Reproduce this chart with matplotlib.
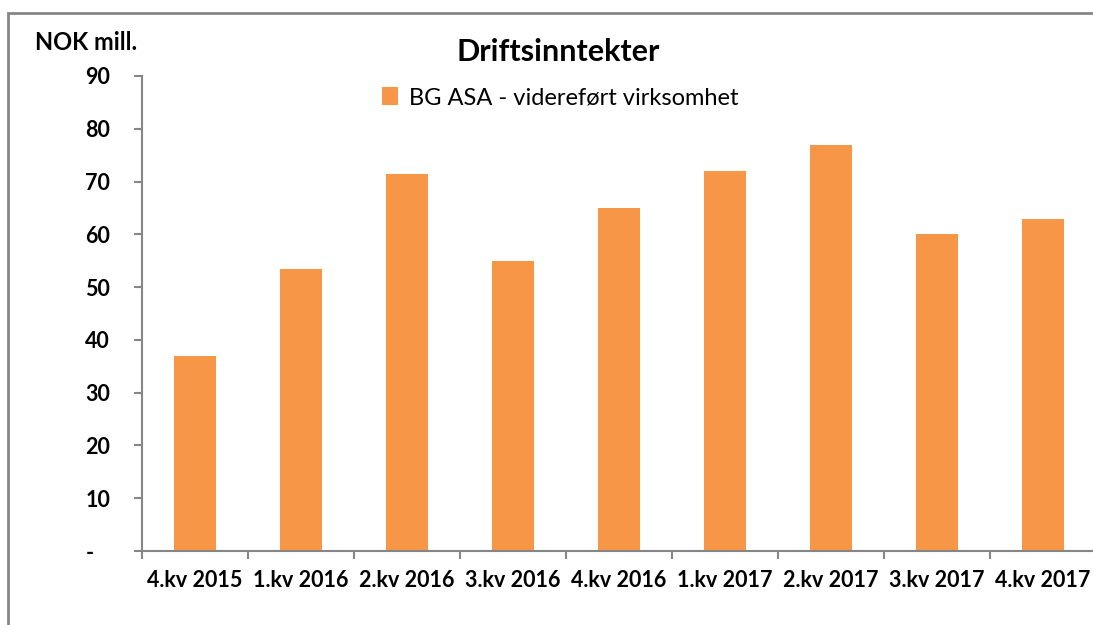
#!/usr/bin/env python3
"""Driftsinntekter - BG ASA, stolpediagram per kvartal."""
import matplotlib.pyplot as plt
from matplotlib.patches import Rectangle
import numpy as np

kvartaler = ["4.kv 2015", "1.kv 2016", "2.kv 2016", "3.kv 2016", "4.kv 2016",
             "1.kv 2017", "2.kv 2017", "3.kv 2017", "4.kv 2017"]
inntekter = [37, 53.4, 71.4, 55, 65, 72, 77, 60, 63]
y_ticks = [0, 10, 20, 30, 40, 50, 60, 70, 80, 90]
y_labels = ["-   ", "10", "20", "30", "40", "50", "60", "70", "80", "90"]

ORANGE = "#F79646"
GREY = "#868686"
FONT = ["Lato", "DejaVu Sans"]

plt.rcParams["font.family"] = FONT

fig = plt.figure(figsize=(10.93, 6.25), dpi=100)
ax = fig.add_axes([142 / 1093, 1 - 551 / 625, (1096 - 142) / 1093, (551 - 76) / 625])

x = np.arange(len(kvartaler))
ax.bar(x, inntekter, width=0.4, color=ORANGE, label="BG ASA - videreført virksomhet")

ax.set_xlim(-0.5, len(kvartaler) - 0.5)
ax.set_ylim(0, 90)
ax.set_yticks(y_ticks)
ax.set_yticklabels(y_labels, fontsize=15.5, fontweight="bold")
ax.set_xticks(x)
ax.set_xticklabels(kvartaler, fontsize=15.5, fontweight="bold")
ax.tick_params(axis="x", length=0, pad=14)
ax.set_xticks(np.arange(len(kvartaler) + 1) - 0.5, minor=True)
ax.tick_params(axis="x", which="minor", length=6, color=GREY, width=1.5)
ax.tick_params(axis="y", length=6, color=GREY, width=1.5, pad=17)

for side in ("top", "right"):
    ax.spines[side].set_visible(False)
for side in ("left", "bottom"):
    ax.spines[side].set_color(GREY)
    ax.spines[side].set_linewidth(1.5)

fig.text(35 / 1093, 1 - 42 / 625, "NOK mill.", fontsize=17, fontweight="bold",
         va="center", ha="left")
fig.text(558 / 1093, 1 - 52 / 625, "Driftsinntekter", fontsize=22, fontweight="bold",
         va="center", ha="center")
ax.legend(loc="center", bbox_to_anchor=(560 / 1093, 1 - 98 / 625),
          bbox_transform=fig.transFigure, frameon=False, fontsize=17,
          handlelength=0.7, handleheight=0.8, handletextpad=0.45)

# ramme rundt diagrammet
fig.patches.append(Rectangle((8 / 1093, -0.1), 1.2, 1.1 - 13 / 625,
                             transform=fig.transFigure, fill=False,
                             edgecolor=GREY, linewidth=2))

fig.savefig("out.png", dpi=100, facecolor="white")
